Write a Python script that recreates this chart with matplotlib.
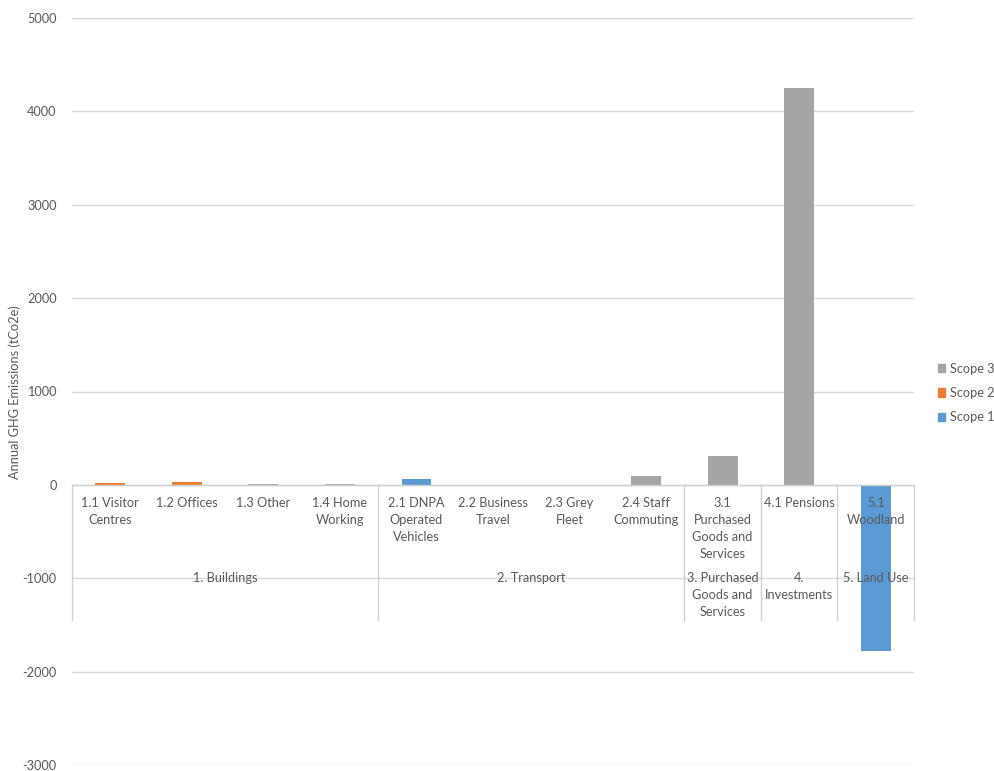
import matplotlib
matplotlib.use("Agg")
import matplotlib.pyplot as plt
from matplotlib.patches import Patch
import numpy as np

# Emissions by subcategory (tCO2e)
categories = ["1.1 Visitor\nCentres", "1.2 Offices", "1.3 Other", "1.4 Home\nWorking",
              "2.1 DNPA\nOperated\nVehicles", "2.2 Business\nTravel", "2.3 Grey\nFleet",
              "2.4 Staff\nCommuting", "3.1\nPurchased\nGoods and\nServices",
              "4.1 Pensions", "5.1\nWoodland"]
groups = ["1. Buildings", "2. Transport", "3. Purchased\nGoods and\nServices",
          "4.\nInvestments", "5. Land Use"]
group_sizes = [4, 4, 1, 1, 1]

scope1 = [0, 0, 0, 0, 60, 0, 0, 0, 0, 0, -1775]
scope2 = [25, 32, 0, 0, 0, 0, 0, 0, 0, 0, 0]
scope3 = [0, 0, 10, 10, 0, 0, 0, 100, 310, 4250, 0]

yticks = [-3000, -2000, -1000, 0, 1000, 2000, 3000, 4000, 5000]
ylabel = "Annual GHG Emissions (tCo2e)"

c1, c2, c3 = "#5B9BD5", "#ED7D31", "#A5A5A5"
txt = "#595959"
grid = "#D9D9D9"
font = "Lato"
fs = 9.2

fig = plt.figure(figsize=(9.95, 7.71), dpi=100)
top_px, bot_px = 18, 765
ax = fig.add_axes([72 / 995, 1 - bot_px / 771, (914 - 72) / 995, (bot_px - top_px) / 771])
px_per_unit = (bot_px - top_px) / (yticks[-1] - yticks[0])

x = np.arange(len(categories))
w = 0.39
s1 = np.array(scope1, float)
s2 = np.array(scope2, float)
s3 = np.array(scope3, float)
pos1 = np.clip(s1, 0, None)
ax.bar(x, s1, w, color=c1, zorder=3)
ax.bar(x, s2, w, bottom=pos1, color=c2, zorder=3)
ax.bar(x, s3, w, bottom=pos1 + np.clip(s2, 0, None), color=c3, zorder=3)

ax.set_xlim(-0.5, len(categories) - 0.5)
ax.set_ylim(yticks[0], yticks[-1])
ax.set_yticks(yticks)
ax.set_yticklabels([str(v) for v in yticks], fontsize=fs, color=txt, family=font)
ax.tick_params(axis="y", length=0, pad=11)
ax.set_xticks([])
ax.grid(axis="y", color=grid, linewidth=1, zorder=0)
for sp in ax.spines.values():
    sp.set_visible(False)
ax.axhline(0, color="#D0D0D0", linewidth=1, zorder=4)

# Multi-level category axis
for i, lab in enumerate(categories):
    ax.annotate(lab, xy=(i, 0), xycoords="data", xytext=(0, -8.5),
                textcoords="offset points", ha="center", va="top",
                fontsize=fs, color=txt, family=font, linespacing=1.5,
                annotation_clip=False, zorder=5)

bounds = np.concatenate([[0], np.cumsum(group_sizes)]) - 0.5
sep_depth = -135 / px_per_unit
for b in bounds:
    ax.plot([b, b], [0, sep_depth], color="#D0D0D0", linewidth=1, zorder=4, clip_on=False)
for g, lab in enumerate(groups):
    cx = (bounds[g] + bounds[g + 1]) / 2
    ax.annotate(lab, xy=(cx, 0), xycoords="data", xytext=(0, -63),
                textcoords="offset points", ha="center", va="top",
                fontsize=fs, color=txt, family=font, linespacing=1.5,
                annotation_clip=False, zorder=5)

fig.text(15 / 995, 1 - 392 / 771, ylabel, rotation=90, ha="center", va="center",
         fontsize=fs, color=txt, family=font)

handles = [Patch(color=c3, label="Scope 3"), Patch(color=c2, label="Scope 2"),
           Patch(color=c1, label="Scope 1")]
leg = fig.legend(handles=handles, loc="center left", bbox_to_anchor=(926 / 995, 1 - 393 / 771),
                 frameon=False, handlelength=0.6, handleheight=0.6, handletextpad=0.35,
                 labelspacing=0.95, prop={"family": font, "size": fs})
for t in leg.get_texts():
    t.set_color(txt)

fig.savefig("out.png", dpi=100)
